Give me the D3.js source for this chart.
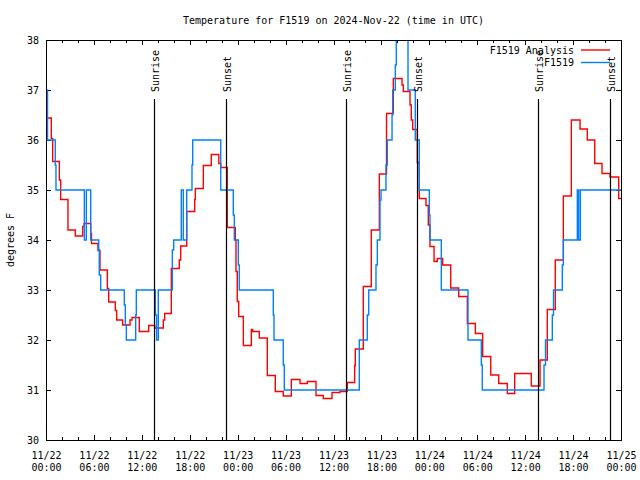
<!DOCTYPE html>
<html><head><meta charset="utf-8">
<script src="https://cdn.jsdelivr.net/npm/d3@7"></script>
<style>
body{margin:0;background:#fff;}
svg{display:block;}
text{font-family:"DejaVu Sans Mono",monospace;font-size:10px;fill:#000;}
</style></head><body>
<svg id="chart" width="640" height="480"></svg>
<script>
// ---- data (hours since 2024-11-22 00:00 UTC, temperature in F) ----
const analysis = [[0,36.44],[0.66,36.03],[0.84,35.57],[1.67,35.2],[1.84,34.81],[2.75,34.2],[3.67,34.08],[4.60,34.27],[4.76,34.33],[5.60,34.13],[5.70,33.93],[6.51,33.79],[6.76,33.4],[7.68,33.03],[7.85,32.76],[8.68,32.59],[8.85,32.4],[9.60,32.3],[10.52,32.4],[10.77,32.45],[11.68,32.17],[12.86,32.29],[13.61,32.24],[14.69,32.4],[14.86,32.53],[15.69,33.43],[16.69,33.6],[16.87,33.88],[17.62,34.57],[18.62,34.81],[18.70,35.03],[19.70,35.49],[20.70,35.71],[21.64,35.53],[21.88,35.45],[22.70,34.25],[23.70,34.0],[23.79,33.37],[23.95,32.77],[24.13,32.47],[24.71,31.89],[25.71,32.21],[25.88,32.17],[26.71,32.04],[27.71,31.29],[28.71,30.97],[29.71,30.88],[30.72,31.21],[31.81,31.13],[32.72,31.17],[33.81,30.89],[34.72,30.83],[35.81,30.95],[36.81,30.97],[37.73,31.15],[38.65,31.49],[38.73,31.82],[39.73,33.07],[40.73,34.2],[41.74,35.32],[42.64,36.53],[43.49,37.23],[44.58,37.1],[44.74,36.97],[45.58,36.7],[45.74,36.4],[45.92,36.21],[46.49,35.55],[46.74,34.83],[47.58,34.69],[47.87,34.3],[48.08,33.87],[48.59,33.57],[49.0,33.63],[49.67,33.5],[50.68,33.04],[51.68,32.87],[52.76,32.33],[53.76,32.13],[54.68,31.67],[55.69,31.3],[56.69,31.13],[57.76,30.93],[58.69,31.33],[60.77,31.08],[61.86,31.6],[62.77,32.61],[63.77,33.6],[64.78,34.88],[65.78,36.4],[66.87,36.22],[67.78,36.0],[68.71,35.53],[69.62,35.33],[70.63,35.26],[71.71,34.83],[72,34.83]];
const observed = [[0,37],[0.19,36],[1.16,35.5],[1.25,35],[4.80,34],[5.05,35],[5.60,34],[6.60,33.8],[6.67,33.3],[6.85,33],[9.80,32.7],[9.93,32.3],[10.06,32],[11.23,32.5],[11.31,33],[13.69,32.5],[13.84,32],[14.06,33],[15.82,33.8],[15.99,34],[16.94,35],[17.19,34],[17.62,35],[18.28,35.5],[18.37,36],[21.88,35],[23.45,34.5],[23.58,34],[24.08,33.5],[24.20,33],[28.46,32.5],[28.55,32],[29.71,31.5],[29.84,31],[39.23,32],[40.23,32.5],[40.41,33],[41.32,33.5],[41.49,34],[41.82,34.8],[41.95,35],[42.57,35.5],[42.74,36],[43.33,36.5],[43.41,37],[43.74,37.5],[43.86,38.6],[45.33,37],[46.24,36],[46.74,35],[48.0,34.5],[48.08,34],[49.5,33],[52.84,32],[54.51,31.5],[54.63,31],[62.36,31.5],[62.55,32],[63.40,32.5],[63.55,33],[64.65,33.5],[64.78,34],[66.53,35],[66.70,34],[66.91,35],[72,35]];
const sunLabels = ["Sunrise","Sunset","Sunrise","Sunset","Sunrise","Sunset"];
const sunHours = [13.56, 22.58, 37.6, 46.5, 61.65, 70.6];
const seriesNames = ["F1519 Analysis","F1519"];
const seriesColors = ["#ff0000","#0080ff"];
const titleText = "Temperature for F1519 on 2024-Nov-22 (time in UTC)";
const yLabel = "degrees F";
const yDomain = [30, 38];

// ---- layout ----
const start = new Date(Date.UTC(2024,10,22,0,0));
const end = new Date(Date.UTC(2024,10,25,0,0));
const toDate = h => new Date(start.getTime() + h*3600000);
const L = 46, R = 621, T = 40, B = 440;

const svg = d3.select("#chart");
svg.append("rect").attr("width",640).attr("height",480).attr("fill","#fff");

const x = d3.scaleUtc().domain([start,end]).range([L,R]);
const y = d3.scaleLinear().domain(yDomain).range([B,T]);

svg.append("defs").append("clipPath").attr("id","clip")
  .append("rect").attr("x",L).attr("y",T).attr("width",R-L).attr("height",B-T);

// axes
const fmtD = d3.utcFormat("%m/%d"), fmtT = d3.utcFormat("%H:%M");
const gx = svg.append("g").attr("transform",`translate(0,${B})`)
  .call(d3.axisBottom(x).ticks(d3.utcHour.every(6)).tickSizeInner(-5).tickSizeOuter(0).tickFormat(""));
gx.selectAll(".tick").append("text").attr("text-anchor","middle")
  .each(function(d){
    const t = d3.select(this);
    t.append("tspan").attr("x",0).attr("y",18.5).text(fmtD(d));
    t.append("tspan").attr("x",0).attr("y",31).text(fmtT(d));
  });
svg.append("g").attr("transform",`translate(0,${B})`)
  .call(d3.axisBottom(x).ticks(d3.utcHour.every(2)).tickSizeInner(-3).tickSizeOuter(0).tickFormat(""));
svg.append("g").attr("transform",`translate(0,${T})`)
  .call(d3.axisTop(x).ticks(d3.utcHour.every(6)).tickSizeInner(-5).tickSizeOuter(0).tickFormat(""));
svg.append("g").attr("transform",`translate(0,${T})`)
  .call(d3.axisTop(x).ticks(d3.utcHour.every(2)).tickSizeInner(-3).tickSizeOuter(0).tickFormat(""));
const gy = svg.append("g").attr("transform",`translate(${L},0)`)
  .call(d3.axisLeft(y).ticks(8).tickSizeInner(-5).tickSizeOuter(0).tickPadding(7));
svg.append("g").attr("transform",`translate(${R},0)`)
  .call(d3.axisRight(y).ticks(8).tickSizeInner(-5).tickSizeOuter(0).tickFormat(""));
svg.selectAll(".domain").remove();
svg.selectAll(".tick line").attr("stroke","#000").attr("shape-rendering","crispEdges");
svg.selectAll(".tick text").attr("font-family",null).attr("font-size",null).style("font-family",'"DejaVu Sans Mono",monospace').style("font-size","10px");
gy.selectAll(".tick text").attr("fill","#000");

// data lines
const line = d3.line().x(d=>x(toDate(d[0]))).y(d=>y(d[1])).curve(d3.curveStepAfter);
const plot = svg.append("g").attr("clip-path","url(#clip)");
[analysis, observed].forEach((s,i)=>{
  plot.append("path").datum(s).attr("d",line).attr("fill","none")
    .attr("stroke",seriesColors[i]).attr("stroke-width",1.4);
});

// sunrise/sunset markers
sunHours.forEach((h,i)=>{
  const xx = Math.round(x(toDate(h)))+0.5;
  svg.append("line").attr("x1",xx).attr("x2",xx).attr("y1",99).attr("y2",B)
    .attr("stroke","#000").attr("stroke-width",1.2);
  svg.append("text").attr("transform",`translate(${xx+4},92) rotate(-90)`)
    .attr("text-anchor","start").text(sunLabels[i]);
});

// border
svg.append("rect").attr("x",L+0.5).attr("y",T+0.5).attr("width",R-L).attr("height",B-T)
  .attr("fill","none").attr("stroke","#000").attr("shape-rendering","crispEdges");

// legend
seriesNames.forEach((n,i)=>{
  const yy = 50 + i*12.5;
  svg.append("text").attr("x",574).attr("y",yy+3.5).attr("text-anchor","end").text(n);
  svg.append("line").attr("x1",581).attr("x2",610).attr("y1",yy).attr("y2",yy)
    .attr("stroke",seriesColors[i]).attr("stroke-width",1.4);
});

// title & y label
svg.append("text").attr("x",(L+R)/2).attr("y",24).attr("text-anchor","middle").text(titleText);
svg.append("text").attr("transform","translate(13.5,240) rotate(-90)").attr("text-anchor","middle").text(yLabel);
</script></body></html>
